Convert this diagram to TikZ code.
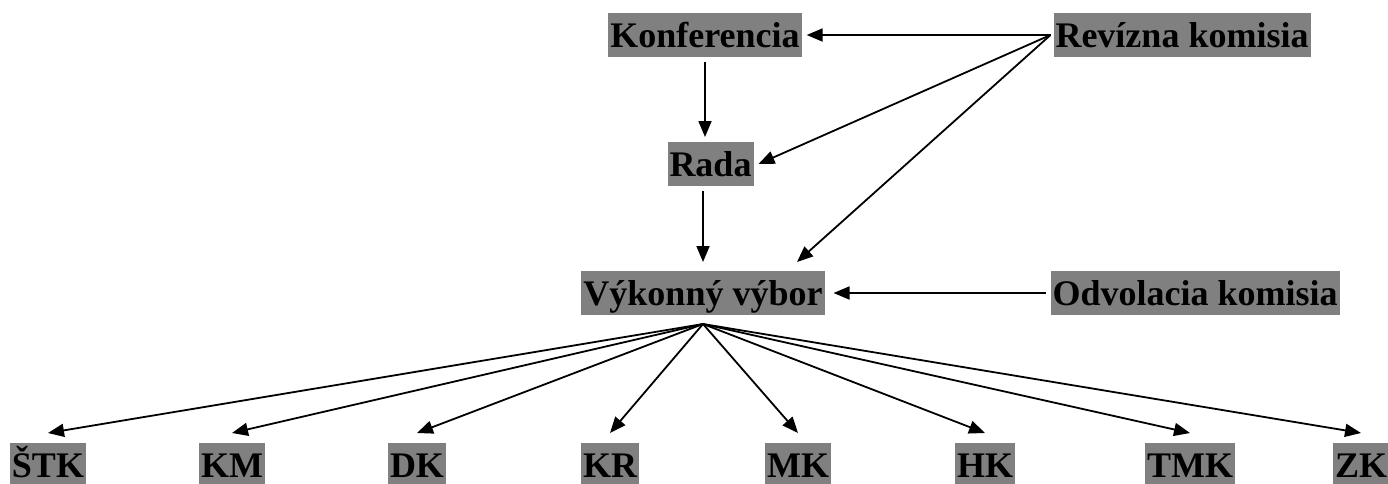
\documentclass[tikz,border=0pt]{standalone}
\usepackage{fontspec}
\setmainfont{Liberation Serif}
\usetikzlibrary{arrows.meta,calc}

\tikzset{
    organ/.style={fill=gray, text=black, font=\fontsize{36}{40}\selectfont\bfseries,
        inner xsep=2pt, inner ysep=2pt, text height=32pt, text depth=8pt, outer sep=5pt},
    komisia/.style={organ, outer sep=9pt},
    odbor/.style={organ, outer xsep=0pt, outer ysep=10pt},
    link/.style={-{Triangle[length=16pt,width=13pt]}, line width=1.8pt}
}

\begin{document}
\begin{tikzpicture}[x=1pt, y=-1pt]

    \useasboundingbox (0,0) rectangle (1388,483);

    % Top part
    \node[organ] (konf) at (705,35) {Konferencia};
    \node[organ, outer sep=3pt] (rev) at (1182,35) {Revízna komisia};
    \node[organ] (rada) at (710.5,164) {Rada};
    \node[komisia] (vv) at (703,293) {Výkonný výbor};
    \node[organ] (odv) at (1195,293) {Odvolacia komisia};

    % Bottom row of committees
    \node[odbor] (stk) at (48,465) {ŠTK};
    \node[odbor] (km) at (232,465) {KM};
    \node[odbor] (dk) at (417,465) {DK};
    \node[odbor] (kr) at (610,465) {KR};
    \node[odbor] (mk) at (798,465) {MK};
    \node[odbor] (hk) at (985,465) {HK};
    \node[odbor] (tmk) at (1190,465) {TMK};
    \node[odbor] (zk) at (1361,465) {ZK};

    % Arrows from the revision committee
    \draw[link] (rev.west) -- (konf.east);
    \draw[link] (rev.west) -- (rada.east);
    \draw[link] (rev.west) -- ($(vv.north)+(94,0)$);

    % Vertical chain
    \draw[link] (konf.south) -- (konf.south |- rada.north);
    \draw[link] (vv.north |- rada.south) -- (vv.north);
    \draw[link] (odv.west) -- (vv.east);

    % Fan to the committees
    \foreach \o in {stk,km,dk,kr,mk,hk,tmk,zk}
        \draw[link] (vv.south) -- (\o.north);

\end{tikzpicture}
\end{document}
